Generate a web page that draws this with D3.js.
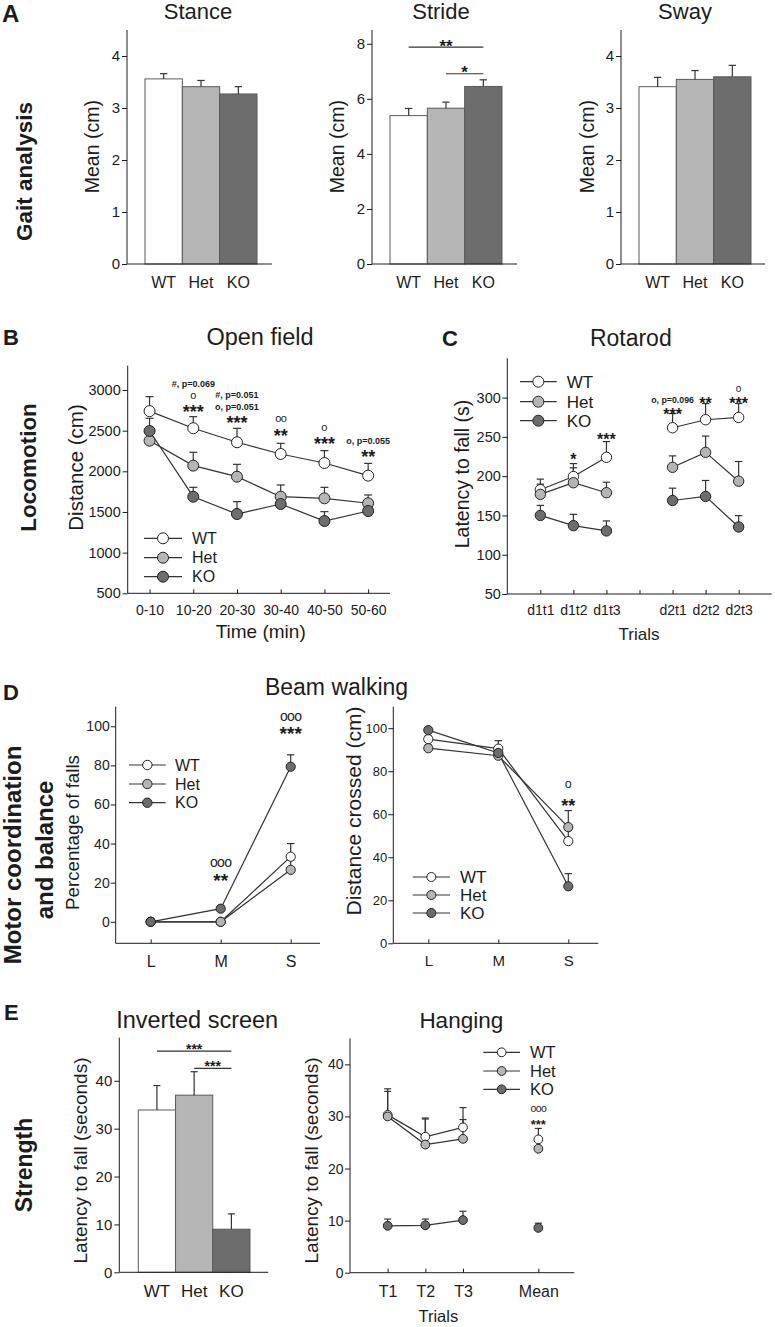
<!DOCTYPE html>
<html><head><meta charset="utf-8">
<script src="https://cdn.jsdelivr.net/npm/d3@7"></script>
<style>body{margin:0;background:#fff}</style>
</head><body><svg id="fig" width="775" height="1327" style="background:#fff"></svg>
<script>
// ---------------- DATA ----------------
const groups = ["WT", "Het", "KO"];

// A: gait analysis (mean, SEM; cm)
const stanceMean = [3.56, 3.41, 3.27];
const stanceSem  = [0.10, 0.12, 0.14];
const strideMean = [5.39, 5.66, 6.45];
const strideSem  = [0.26, 0.22, 0.24];
const swayMean   = [3.41, 3.55, 3.60];
const swaySem    = [0.18, 0.17, 0.22];
const gaitTicks  = [0, 1, 2, 3, 4];
const strideTicks = [0, 2, 4, 6, 8];
const strideSig = [{from: "WT", to: "KO", at: 7.88, label: "**"}, {from: "Het", to: "KO", at: 6.91, label: "*"}];

// B: open field (distance, cm)
const openTimes  = ["0-10", "10-20", "20-30", "30-40", "40-50", "50-60"];
const openWT     = [2740, 2530, 2357, 2213, 2102, 1947];
const openWTsem  = [178, 142, 172, 131, 152, 151];
const openHet    = [2377, 2070, 1934, 1688, 1668, 1607];
const openHetSem = [110, 164, 152, 144, 135, 102];
const openKO     = [2496, 1688, 1475, 1598, 1389, 1512];
const openKOsem  = [156, 115, 152, 100, 115, 80];
const openTicks  = [500, 1000, 1500, 2000, 2500, 3000];
const openSig = [
  {x: "10-20", at: 2779, lines: ["***", "o", "#, p=0.069"]},
  {x: "20-30", at: 2643, lines: ["***", "o, p=0.051", "#, p=0.051"]},
  {x: "30-40", at: 2487, lines: ["**", "oo"]},
  {x: "40-50", at: 2385, lines: ["***", "o"]},
  {x: "50-60", at: 2229, lines: ["**", "o, p=0.055"]}
];

// C: rotarod (latency, s)
const rotTicks  = ["d1t1", "d1t2", "d1t3", "", "d2t1", "d2t2", "d2t3"];
const rotTrials = ["d1t1", "d1t2", "d1t3", "d2t1", "d2t2", "d2t3"];
const rotDays   = [["d1t1", "d1t2", "d1t3"], ["d2t1", "d2t2", "d2t3"]];
const rotWT     = [182.7, 199.5, 224.0, 261.6, 271.8, 274.7];
const rotWTsem  = [13.5, 16.5, 20.0, 18.0, 20.6, 17.7];
const rotHet    = [176.8, 191.6, 178.9, 211.3, 230.3, 193.6];
const rotHetSem = [13.0, 19.0, 13.4, 14.5, 20.7, 25.0];
const rotKO     = [150.0, 137.0, 130.3, 169.0, 174.2, 135.3];
const rotKOsem  = [12.8, 14.4, 12.7, 15.7, 20.3, 14.4];
const rotYTicks = [50, 100, 150, 200, 250, 300];
const rotSig = [
  {x: "d1t2", at: 226, lines: ["*"]},
  {x: "d1t3", at: 251.5, lines: ["***"]},
  {x: "d2t1", at: 283, lines: ["***", "o, p=0.096"]},
  {x: "d2t2", at: 297, lines: ["**"]},
  {x: "d2t3", at: 297, lines: ["***", "o"]}
];

// D: beam walking
const beams       = ["L", "M", "S"];
const fallsWT     = [0, 0, 33.3];
const fallsWTsem  = [0, 0, 6.7];
const fallsHet    = [0, 0, 26.6];
const fallsHetSem = [0, 0, 5.0];
const fallsKO     = [0, 6.7, 79.3];
const fallsKOsem  = [0, 1.5, 6.1];
const pctTicks    = [0, 20, 40, 60, 80, 100];
const fallsSig = [{x: "M", at: 23.4, lines: ["**", "ooo"]}, {x: "S", at: 98.3, lines: ["***", "ooo"]}];
const crossWT     = [94.9, 90.5, 47.5];
const crossWTsem  = [1.5, 3.7, 5.0];
const crossHet    = [90.7, 87.2, 54.0];
const crossHetSem = [1.5, 2.0, 7.7];
const crossKO     = [99.1, 88.5, 26.5];
const crossKOsem  = [1.0, 2.0, 5.9];
const crossSig = [{x: "S", at: 66, lines: ["**", "o"]}];

// E: strength
const invMean  = [33.9, 37.0, 9.0];
const invSem   = [5.1, 4.9, 3.2];
const invTicks = [0, 10, 20, 30, 40];
const invSig = [{from: "WT", to: "KO", at: 46.2, label: "***"}, {from: "Het", to: "KO", at: 42.6, label: "***"}];
const hangTicks  = ["T1", "T2", "T3", "", "Mean"];
const hangTrials = ["T1", "T2", "T3"];
const hangWT     = [30.3, 26.1, 27.9];
const hangWTsem  = [5.0, 3.6, 3.8];
const hangHet    = [30.0, 24.6, 25.7];
const hangHetSem = [4.8, 4.9, 3.7];
const hangKO     = [9.0, 9.1, 10.1];
const hangKOsem  = [1.3, 1.2, 1.7];
const hangMean    = [25.6, 23.8, 8.6];
const hangMeanSem = [2.1, 1.5, 0.9];
const hangSig = [{x: "Mean", at: 29.1, lines: ["***", "ooo"]}];

// ---------------- DRAWING ----------------
const svg = d3.select("#fig");
const FONT = '"Liberation Sans", Arial, Helvetica, sans-serif';
const INK = "#1c1c1c";
const LINE = "#333";
const fillOf = {WT: "#ffffff", Het: "#b5b5b5", KO: "#6d6d6d"};
const intFmt = d3.format("d");

function label(g, x, y, s, size, o = {}) {
  const t = g.append("text").attr("x", x).attr("y", y).text(s)
    .attr("font-family", FONT).attr("font-size", size).attr("fill", INK);
  if (o.anchor) t.attr("text-anchor", o.anchor);
  if (o.bold) t.attr("font-weight", "bold");
  if (o.rot) t.attr("transform", `rotate(-90 ${x} ${y})`);
  if (o.ls != null) t.attr("letter-spacing", o.ls);
  return t;
}

function drawYAxis(g, y, x0, ticks, size, pad, tlen) {
  const a = g.append("g").attr("transform", `translate(${x0},0)`)
    .call(d3.axisLeft(y).tickValues(ticks).tickFormat(intFmt).tickSizeInner(tlen).tickSizeOuter(0).tickPadding(pad));
  a.select(".domain").remove();
  a.selectAll(".tick line").attr("stroke", INK);
  a.selectAll(".tick text").attr("font-family", FONT).attr("font-size", size).attr("fill", INK);
  const r = y.range();
  g.append("line").attr("x1", x0).attr("x2", x0).attr("y1", r[0]).attr("y2", r[1])
    .attr("stroke", INK).attr("stroke-width", 1);
}

function drawXAxis(g, x, y0, xStart, xEnd, ticks, tlen, size, pad) {
  const a = g.append("g").attr("transform", `translate(0,${y0})`)
    .call(d3.axisBottom(x).tickValues(ticks).tickSizeInner(tlen).tickSizeOuter(0).tickPadding(pad));
  a.select(".domain").remove();
  a.selectAll(".tick line").attr("stroke", INK);
  a.selectAll(".tick text").attr("font-family", FONT).attr("font-size", size).attr("fill", INK);
  g.append("line").attr("x1", xStart).attr("x2", xEnd).attr("y1", y0).attr("y2", y0)
    .attr("stroke", INK).attr("stroke-width", 1);
}

function errBar(g, cx, y0, y1, cap) {
  g.append("line").attr("x1", cx).attr("x2", cx).attr("y1", y0).attr("y2", y1)
    .attr("stroke", LINE).attr("stroke-width", 1.2);
  g.append("line").attr("x1", cx - cap).attr("x2", cx + cap).attr("y1", y1).attr("y2", y1)
    .attr("stroke", LINE).attr("stroke-width", 1.2);
}

function sigStack(g, cx, cy0, lines, spacing, sz) {
  lines.forEach((s, i) => {
    const cy = cy0 - i * spacing;
    let size, bold = false, k, ls = null;
    if (/^\*+$/.test(s)) { size = sz.star; bold = true; k = 0.57; }
    else if (/p=/.test(s)) { size = sz.p; bold = true; k = 0.36; }
    else { size = sz.o; k = 0.26; ls = s.length > 1 ? -0.6 : null; }
    label(g, cx, cy + k * size, s, size, {anchor: "middle", bold, ls});
  });
}

function legend(g, lx0, lx1, tx, rows, size, r) {
  groups.forEach((name, i) => {
    const yy = rows[i];
    g.append("line").attr("x1", lx0).attr("x2", lx1).attr("y1", yy).attr("y2", yy)
      .attr("stroke", LINE).attr("stroke-width", 1.2);
    g.append("circle").attr("cx", (lx0 + lx1) / 2).attr("cy", yy).attr("r", r)
      .attr("fill", fillOf[name]).attr("stroke", "#222").attr("stroke-width", 1);
    label(g, tx, yy + 0.35 * size, name, size);
  });
}

function barPanel(p) {
  const g = svg.append("g");
  const y = d3.scaleLinear().domain([0, p.yMax]).range([p.yBase, p.yTop]);
  const x = d3.scaleBand().domain(groups).range([p.bx0, p.bx1]).padding(0);
  g.selectAll("rect").data(groups).join("rect")
    .attr("x", d => x(d)).attr("width", x.bandwidth())
    .attr("y", (d, i) => y(p.mean[i])).attr("height", (d, i) => y(0) - y(p.mean[i]))
    .attr("fill", d => fillOf[d]).attr("stroke", "#5a5a5a").attr("stroke-width", 1);
  groups.forEach((d, i) => {
    const cx = x(d) + x.bandwidth() / 2;
    errBar(g, cx, y(p.mean[i]), y(p.mean[i] + p.sem[i]), p.cap);
  });
  drawYAxis(g, y, p.ax0, p.ticks, p.tickSize, 2, 5);
  drawXAxis(g, x, p.yBase, p.ax0, p.ax1, groups, 0, p.xSize, p.xPad);
  label(g, p.titleX, p.titleY, p.title, p.titleSize, {anchor: "middle"});
  label(g, p.ylabX, p.ylabY, p.ylab, p.ylabSize, {anchor: "middle", rot: true});
  (p.sig || []).forEach(s => {
    const xa = x(s.from) + x.bandwidth() / 2, xb = x(s.to) + x.bandwidth() / 2;
    const yy = y(s.at);
    g.append("line").attr("x1", xa).attr("x2", xb).attr("y1", yy).attr("y2", yy)
      .attr("stroke", LINE).attr("stroke-width", 1.2);
    label(g, (xa + xb) / 2, yy - 5 + 0.57 * p.sigSize, s.label, p.sigSize, {anchor: "middle", bold: true});
  });
  return g;
}

function linePanel(p) {
  const g = svg.append("g");
  const y = d3.scaleLinear().domain(p.yDomain).range([p.yBase, p.yTop]);
  const x = d3.scalePoint().domain(p.xTicks).range(p.xRange).padding(p.xPadding);
  const line = d3.line().x(d => x(d.k)).y(d => y(d.v));
  drawYAxis(g, y, p.ax0, p.yTicks, p.yTickSize, p.yTickPad, 5);
  drawXAxis(g, x, p.yBase, p.ax0, p.ax1, p.xTickVals || p.xTicks, -4, p.xSize, p.xPad);
  p.series.forEach(s => {
    s.segments.forEach(seg => {
      const pts = seg.map(k => ({k, v: s.values[s.cats.indexOf(k)]}));
      g.append("path").attr("d", line(pts)).attr("fill", "none")
        .attr("stroke", LINE).attr("stroke-width", 1.2);
    });
  });
  p.series.forEach(s => s.cats.forEach((k, i) => {
    if (s.sems[i] > 0) errBar(g, x(k), y(s.values[i]), y(s.values[i] + s.sems[i]), p.cap);
  }));
  p.series.forEach(s => {
    g.selectAll(null).data(s.cats).join("circle")
      .attr("cx", k => x(k)).attr("cy", (k, i) => y(s.values[i])).attr("r", p.r)
      .attr("fill", fillOf[s.name]).attr("stroke", "#222").attr("stroke-width", 1);
  });
  if (p.title) label(g, p.titleX, p.titleY, p.title, p.titleSize, {anchor: "middle"});
  label(g, p.ylabX, p.ylabY, p.ylab, p.ylabSize, {anchor: "middle", rot: true});
  if (p.xlab) label(g, p.xlabX, p.xlabY, p.xlab, p.xlabSize, {anchor: "middle"});
  (p.sig || []).forEach(s => sigStack(g, x(s.x), y(s.at), s.lines, p.sigSpacing, p.sigSizes));
  return g;
}

// ---- Panel letters & row labels ----
const lab = svg.append("g");
label(lab, 2, 22, "A", 24, {bold: true});
label(lab, 3, 345, "B", 22, {bold: true});
label(lab, 442, 346, "C", 22, {bold: true});
label(lab, 3, 700, "D", 22, {bold: true});
label(lab, 4, 1020, "E", 22, {bold: true});
label(lab, 31.5, 171.5, "Gait analysis", 22.5, {bold: true, rot: true, anchor: "middle"});
label(lab, 35.5, 467.5, "Locomotion", 22.5, {bold: true, rot: true, anchor: "middle"});
label(lab, 21, 855, "Motor coordination", 24, {bold: true, rot: true, anchor: "middle"});
label(lab, 52.5, 850, "and balance", 24, {bold: true, rot: true, anchor: "middle"});
label(lab, 32, 1165, "Strength", 23, {bold: true, rot: true, anchor: "middle"});

// ---- A ----
const aCommon = {yBase: 264, yTop: 30, tickSize: 15, xSize: 16, xPad: 12.5, titleY: 19,
  titleSize: 22, ylab: "Mean (cm)", ylabY: 146.7, ylabSize: 19.5, cap: 3.7, sigSize: 17};
barPanel(Object.assign({}, aCommon, {ax0: 127, ax1: 272, bx0: 145, bx1: 257, yMax: 4.5,
  ticks: gaitTicks, mean: stanceMean, sem: stanceSem, title: "Stance", titleX: 198, ylabX: 99.5}));
barPanel(Object.assign({}, aCommon, {ax0: 372, ax1: 517, bx0: 390, bx1: 502, yMax: 8.5,
  ticks: strideTicks, mean: strideMean, sem: strideSem, title: "Stride", titleX: 441, ylabX: 344.2, sig: strideSig}));
barPanel(Object.assign({}, aCommon, {ax0: 621, ax1: 765, bx0: 639, bx1: 751, yMax: 4.5,
  ticks: gaitTicks, mean: swayMean, sem: swaySem, title: "Sway", titleX: 685, ylabX: 594.2}));

// ---- B ----
const gB = linePanel({
  yDomain: [500, 3300], yBase: 593.3, yTop: 365.6, xTicks: openTimes, xRange: [127.7, 390], xPadding: 0.5,
  ax0: 127.7, ax1: 390, yTicks: openTicks, yTickSize: 14.5, yTickPad: 2, xSize: 14, xPad: 11.5,
  r: 5.5, cap: 4,
  series: [
    {name: "WT", cats: openTimes, values: openWT, sems: openWTsem, segments: [openTimes]},
    {name: "Het", cats: openTimes, values: openHet, sems: openHetSem, segments: [openTimes]},
    {name: "KO", cats: openTimes, values: openKO, sems: openKOsem, segments: [openTimes]}
  ],
  title: "Open field", titleX: 260, titleY: 345, titleSize: 23.5,
  ylab: "Distance (cm)", ylabX: 83, ylabY: 467.5, ylabSize: 20.5,
  xlab: "Time (min)", xlabX: 260.7, xlabY: 638, xlabSize: 19,
  sig: openSig, sigSpacing: 12.3, sigSizes: {star: 18, p: 9, o: 11}
});
legend(gB, 144, 182, 192, [538.3, 557.7, 576.7], 16, 5.5);

// ---- C ----
const gC = linePanel({
  yDomain: [50, 350], yBase: 594, yTop: 358.3, xTicks: rotTicks, xRange: [507.3, 771.7], xPadding: 1,
  ax0: 507.3, ax1: 771.7, yTicks: rotYTicks, yTickSize: 14.5, yTickPad: 1.5, xSize: 14, xPad: 11,
  r: 5.2, cap: 3.7,
  series: [
    {name: "WT", cats: rotTrials, values: rotWT, sems: rotWTsem, segments: rotDays},
    {name: "Het", cats: rotTrials, values: rotHet, sems: rotHetSem, segments: rotDays},
    {name: "KO", cats: rotTrials, values: rotKO, sems: rotKOsem, segments: rotDays}
  ],
  title: "Rotarod", titleX: 630.8, titleY: 345.7, titleSize: 23,
  ylab: "Latency to fall (s)", ylabX: 469.2, ylabY: 474, ylabSize: 19.5,
  xlab: "Trials", xlabX: 639, xlabY: 640, xlabSize: 17,
  sig: rotSig, sigSpacing: 10.7, sigSizes: {star: 16, p: 8.8, o: 10}
});
legend(gC, 520, 556.7, 566.7, [381.7, 401.7, 420.7], 17, 5.5);

// ---- D ----
label(svg, 336.5, 695, "Beam walking", 23, {anchor: "middle"});
const gDL = linePanel({
  yDomain: [-11, 110], yBase: 943.3, yTop: 706.7, xTicks: beams, xRange: [115.7, 325.7], xPadding: 0.5,
  ax0: 115.7, ax1: 320, yTicks: pctTicks, yTickSize: 14, yTickPad: 1, xSize: 16, xPad: 12,
  r: 4.6, cap: 3.7,
  series: [
    {name: "WT", cats: beams, values: fallsWT, sems: fallsWTsem, segments: [beams]},
    {name: "Het", cats: beams, values: fallsHet, sems: fallsHetSem, segments: [beams]},
    {name: "KO", cats: beams, values: fallsKO, sems: fallsKOsem, segments: [beams]}
  ],
  ylab: "Percentage of falls", ylabX: 78.7, ylabY: 832.5, ylabSize: 18.7,
  sig: fallsSig, sigSpacing: 12.5, sigSizes: {star: 19, p: 9, o: 14}
});
legend(gDL, 129, 165.7, 175, [765, 784, 802.7], 16, 4.7);
const gDR = linePanel({
  yDomain: [0, 110], yBase: 943.3, yTop: 706.7, xTicks: beams, xRange: [393.3, 603.3], xPadding: 0.5,
  ax0: 393.3, ax1: 598.3, yTicks: pctTicks, yTickSize: 13, yTickPad: 1, xSize: 15, xPad: 12,
  r: 4.6, cap: 3.7,
  series: [
    {name: "WT", cats: beams, values: crossWT, sems: crossWTsem, segments: [beams]},
    {name: "Het", cats: beams, values: crossHet, sems: crossHetSem, segments: [beams]},
    {name: "KO", cats: beams, values: crossKO, sems: crossKOsem, segments: [beams]}
  ],
  ylab: "Distance crossed (cm)", ylabX: 360.7, ylabY: 811, ylabSize: 21,
  sig: crossSig, sigSpacing: 16.7, sigSizes: {star: 18, p: 9, o: 12.5}
});
legend(gDR, 412.7, 450, 460, [877, 895, 913], 17, 4.5);

// ---- E ----
barPanel({ax0: 119.3, ax1: 268.3, bx0: 138.3, bx1: 250, yBase: 1272.3, yTop: 1037.7, yMax: 49,
  ticks: invTicks, tickSize: 15, xSize: 17, xPad: 12.5, mean: invMean, sem: invSem,
  title: "Inverted screen", titleX: 197.2, titleY: 1027.7, titleSize: 23.5,
  ylab: "Latency to fall (seconds)", ylabX: 86.9, ylabY: 1160.5, ylabSize: 19, cap: 3.5,
  sig: invSig, sigSize: 14});
const gE = linePanel({
  yDomain: [0, 45], yBase: 1272.7, yTop: 1038.3, xTicks: hangTicks, xTickVals: hangTicks.filter(t => t !== ""),
  xRange: [350, 576], xPadding: 1,
  ax0: 350, ax1: 574.3, yTicks: invTicks, yTickSize: 14, yTickPad: 1.5, xSize: 16, xPad: 12.8,
  r: 4.4, cap: 3.5,
  series: [
    {name: "WT", cats: hangTrials, values: hangWT, sems: hangWTsem, segments: [hangTrials]},
    {name: "Het", cats: hangTrials, values: hangHet, sems: hangHetSem, segments: [hangTrials]},
    {name: "KO", cats: hangTrials, values: hangKO, sems: hangKOsem, segments: [hangTrials]},
    {name: "WT", cats: ["Mean"], values: [hangMean[0]], sems: [hangMeanSem[0]], segments: []},
    {name: "Het", cats: ["Mean"], values: [hangMean[1]], sems: [hangMeanSem[1]], segments: []},
    {name: "KO", cats: ["Mean"], values: [hangMean[2]], sems: [hangMeanSem[2]], segments: []}
  ],
  title: "Hanging", titleX: 461.3, titleY: 1027.7, titleSize: 22.5,
  ylab: "Latency to fall (seconds)", ylabX: 317.9, ylabY: 1160.5, ylabSize: 19,
  xlab: "Trials", xlabX: 438.3, xlabY: 1321.5, xlabSize: 16.5,
  sig: hangSig, sigSpacing: 11.7, sigSizes: {star: 13, p: 9, o: 10.5}
});
legend(gE, 483.3, 520, 530, [1052.3, 1071, 1089.3], 16.5, 4.4);
</script>
</body></html>
